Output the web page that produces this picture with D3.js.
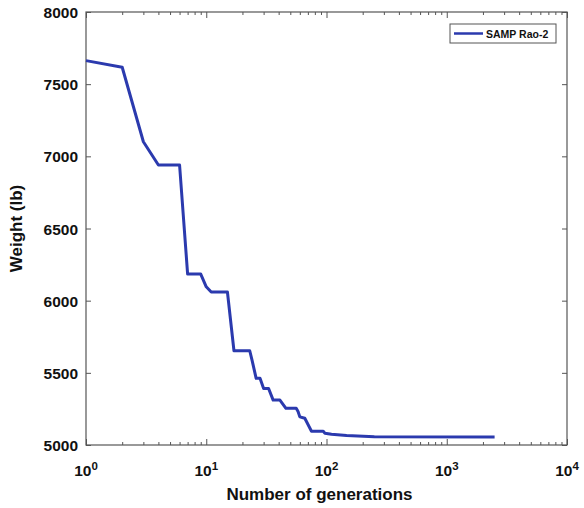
<!DOCTYPE html>
<html><head><meta charset="utf-8">
<script src="https://cdn.jsdelivr.net/npm/d3@7"></script>
<style>body{margin:0;background:#fff}svg{display:block}text{font-family:"Liberation Sans",Arial,sans-serif;font-weight:bold}</style>
</head><body>
<svg id="c" width="584" height="508"></svg>
<script>
const generations = [1,2,3,4,6,7,9,10,11,15,17,23,24,26,28,30,33,36,41,46,56,58,60,66,75,94,97,110,147,250,2500];
const weights = [7663,7617,7101,6940,6940,6184,6184,6096,6060,6060,5653,5653,5590,5462,5462,5392,5392,5311,5311,5254,5254,5232,5195,5185,5095,5095,5082,5074,5065,5058,5055];
const yTicks = [5000,5500,6000,6500,7000,7500,8000];
const xMajor = [1,10,100,1000,10000];
const seriesName = "SAMP Rao-2";

const W=584,H=508,m={l:86,r:17,t:12,b:63};
const svg=d3.select("#c");
const x=d3.scaleLog().domain([1,10000]).range([m.l,W-m.r]);
const y=d3.scaleLinear().domain([5000,8000]).range([H-m.b,m.t]);
const axisCol="#555";
const blue="#2b3aae";

const xMinor=x.ticks().filter(v=>!xMajor.includes(v));
function styleAxis(g){g.select(".domain").remove();g.selectAll("line").attr("stroke",axisCol);}
// bottom
svg.append("g").attr("transform",`translate(0,${H-m.b})`).call(d3.axisBottom(x).tickValues(xMajor).tickSize(-6).tickFormat("")).call(styleAxis);
svg.append("g").attr("transform",`translate(0,${H-m.b})`).call(d3.axisBottom(x).tickValues(xMinor).tickSize(-3).tickFormat("")).call(styleAxis);
// top
svg.append("g").attr("transform",`translate(0,${m.t})`).call(d3.axisTop(x).tickValues(xMajor).tickSize(-6).tickFormat("")).call(styleAxis);
svg.append("g").attr("transform",`translate(0,${m.t})`).call(d3.axisTop(x).tickValues(xMinor).tickSize(-3).tickFormat("")).call(styleAxis);
// left / right
const gl=svg.append("g").attr("transform",`translate(${m.l},0)`).call(d3.axisLeft(y).tickValues(yTicks).tickSize(-5).tickPadding(8).tickFormat(d3.format("d")));
gl.select(".domain").remove();gl.selectAll("line").attr("stroke",axisCol);
gl.selectAll("text").attr("font-size",15.5).attr("fill","#111").attr("font-family","Liberation Sans, Arial, sans-serif").attr("font-weight","bold").attr("dy","0.36em");
svg.append("g").attr("transform",`translate(${W-m.r},0)`).call(d3.axisRight(y).tickValues(yTicks).tickSize(-5).tickFormat("")).call(styleAxis);

// box
svg.append("rect").attr("x",m.l).attr("y",m.t).attr("width",W-m.l-m.r).attr("height",H-m.t-m.b).attr("fill","none").attr("stroke",axisCol).attr("stroke-width",1.2);

// x tick labels
const xl=svg.append("g");
xMajor.forEach(v=>{
  const t=xl.append("text").attr("x",x(v)).attr("y",476).attr("text-anchor","middle").attr("font-size",15.5).attr("fill","#111");
  t.append("tspan").text("10");
  t.append("tspan").attr("dy",-6).attr("font-size",11.5).text(String(Math.round(Math.log10(v))));
});

// line
const line=d3.line().x((d,i)=>x(generations[i])).y((d,i)=>y(weights[i]));
svg.append("path").datum(weights).attr("d",line).attr("fill","none").attr("stroke",blue).attr("stroke-width",3).attr("stroke-linejoin","round");

// labels
svg.append("text").attr("x",(m.l+W-m.r)/2-7).attr("y",500).attr("text-anchor","middle").attr("font-size",17).attr("fill","#111").text("Number of generations");
svg.append("text").attr("transform",`translate(22,${(m.t+H-m.b)/2}) rotate(-90)`).attr("text-anchor","middle").attr("font-size",17).attr("fill","#111").text("Weight (lb)");

// legend
const lg=svg.append("g");
lg.append("rect").attr("x",450).attr("y",24).attr("width",106).attr("height",19).attr("fill","#fff").attr("stroke",axisCol);
lg.append("line").attr("x1",454).attr("x2",483).attr("y1",33.5).attr("y2",33.5).attr("stroke",blue).attr("stroke-width",2.5);
lg.append("text").attr("x",486).attr("y",37.5).attr("font-size",10.5).attr("fill","#111").text(seriesName);
</script>
</body></html>
